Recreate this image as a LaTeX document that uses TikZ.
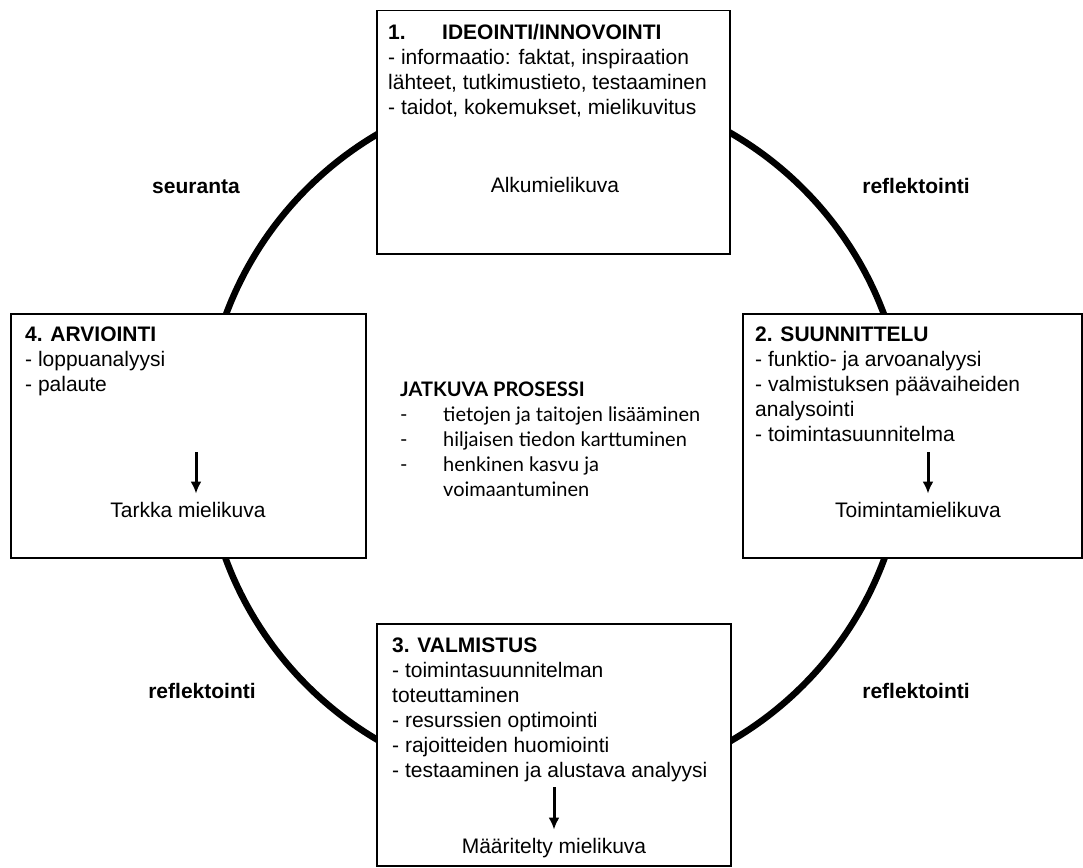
\documentclass[tikz,border=0pt]{standalone}
\usepackage{fontspec}
\setmainfont{Liberation Sans}
\newfontfamily\midfont{Lato}
\usetikzlibrary{arrows.meta, positioning}

\begin{document}
\begin{tikzpicture}[x=1pt, y=-1pt,
    phase/.style={rectangle, draw, line width=1.5pt, fill=white, anchor=north west, inner sep=0pt},
    body/.style={anchor=north west, inner sep=0pt, align=left, font=\fontsize{21}{25}\selectfont},
    result/.style={anchor=base, inner sep=0pt, font=\fontsize{21}{25}\selectfont},
    link/.style={anchor=base, inner sep=0pt, font=\bfseries\fontsize{21}{25}\selectfont},
    arr/.style={-{Latex[length=12pt,width=11pt]}, line width=3pt, shorten >=8pt}]
    \useasboundingbox (0,0) rectangle (1083,867);

    % the cycle
    \node[circle, draw, line width=6.5pt, minimum size=702pt, inner sep=0pt] (kierto) at (555,437) {};

    % 1. ideointi
    \node[phase, minimum width=353pt, minimum height=243pt] (ideo) at (376,10) {};
    \node[body] (ideo-txt) at (388,24) {\textbf{\makebox[54pt][l]{1.}IDEOINTI/INNOVOINTI}\\- informaatio: faktat, inspiraation\\lähteet, tutkimustieto, testaaminen\\- taidot, kokemukset, mielikuvitus};
    \node[result] (alku) at (555,192) {Alkumielikuva};

    % 2. suunnittelu
    \node[phase, minimum width=339pt, minimum height=244pt] (suun) at (742,313) {};
    \node[body] (suun-txt) at (755,327) {\textbf{2. SUUNNITTELU}\\- funktio- ja arvoanalyysi\\- valmistuksen päävaiheiden\\analysointi\\- toimintasuunnitelma};
    \node[result] (toim) at (918,517) {Toimintamielikuva};
    \coordinate (suun-arr) at (928,452);
    \draw[arr] (suun-arr) -- (suun-arr |- toim.north);

    % 3. valmistus
    \node[phase, minimum width=354pt, minimum height=242pt] (valm) at (376,623) {};
    \node[body] (valm-txt) at (392,638) {\textbf{3. VALMISTUS}\\- toimintasuunnitelman\\toteuttaminen\\- resurssien optimointi\\- rajoitteiden huomiointi\\- testaaminen ja alustava analyysi};
    \node[result] (maar) at (554,853) {Määritelty mielikuva};
    \coordinate (valm-arr) at (554,787);
    \draw[arr] (valm-arr) -- (valm-arr |- maar.north);

    % 4. arviointi
    \node[phase, minimum width=355pt, minimum height=244pt] (arvi) at (10,313) {};
    \node[body] (arvi-txt) at (25,327) {\textbf{4. ARVIOINTI}\\- loppuanalyysi\\- palaute};
    \node[result] (tark) at (188,517) {Tarkka mielikuva};
    \coordinate (arvi-arr) at (196,452);
    \draw[arr] (arvi-arr) -- (arvi-arr |- tark.north);

    % labels on the cycle
    \node[link] (seur) at (196,193) {seuranta};
    \node[link] (refl-a) at (916,193) {reflektointi};
    \node[link] (refl-b) at (916,698) {reflektointi};
    \node[link] (refl-c) at (202,698) {reflektointi};

    % middle
    \node[anchor=north west, inner sep=0pt, align=left, font=\midfont\fontsize{20}{25}\selectfont] (jatk) at (400,382)
        {\textbf{JATKUVA PROSESSI}\\\makebox[43pt][l]{-}tietojen ja taitojen lisääminen\\\makebox[43pt][l]{-}hiljaisen tiedon karttuminen\\\makebox[43pt][l]{-}henkinen kasvu ja\\\hspace*{43pt}voimaantuminen};
\end{tikzpicture}
\end{document}
